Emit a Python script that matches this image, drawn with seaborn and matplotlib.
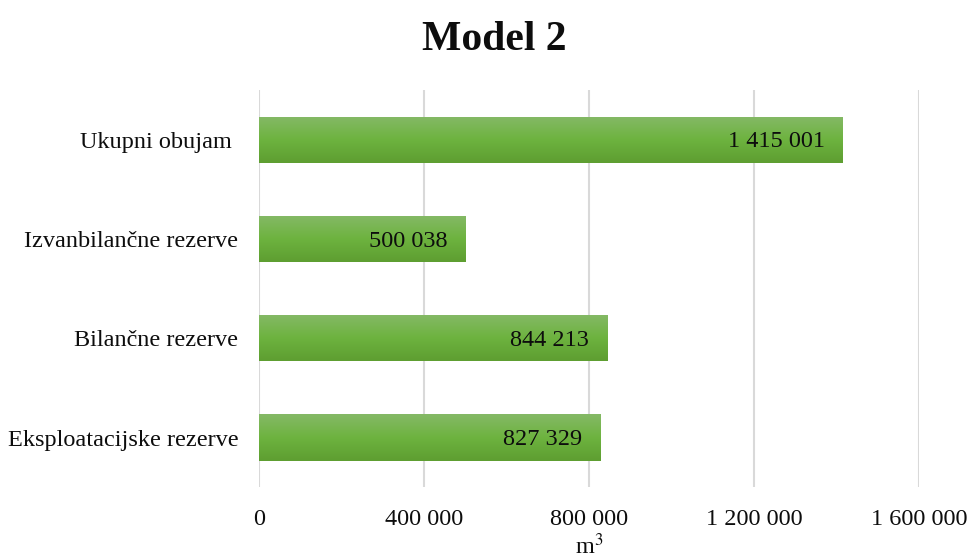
import matplotlib
matplotlib.use("Agg")
import matplotlib.pyplot as plt
import numpy as np
import pandas as pd
import seaborn as sns
from matplotlib.colors import LinearSegmentedColormap
from matplotlib.ticker import FuncFormatter

categories = [
    "Ukupni obujam ",
    "Izvanbilančne rezerve",
    "Bilančne rezerve",
    "Eksploatacijske rezerve",
]
values = [1415001, 500038, 844213, 827329]
x_ticks = [0, 400000, 800000, 1200000, 1600000]

sns.set_theme(style="white")
plt.rcParams["font.family"] = ["Liberation Serif", "DejaVu Serif"]
plt.rcParams["mathtext.fontset"] = "stix"

TEXT = "#0d0d0d"
FS = 17.5


def space_thousands(v, _pos=None):
    return f"{int(round(v)):,}".replace(",", " ")


df = pd.DataFrame({"Kategorija": categories, "Vrijednost": values})

fig = plt.figure(figsize=(9.68, 5.6), dpi=100)
ax = fig.add_axes([0.2676, 0.130, 0.6818, 0.709])

sns.barplot(
    data=df,
    x="Vrijednost",
    y="Kategorija",
    color="#70ad47",
    width=0.465,
    orient="h",
    ax=ax,
)

# vertical gradient on each bar, like the spreadsheet fill
grad = LinearSegmentedColormap.from_list("g", ["#85b966", "#6db33f", "#5e9e31"])
for patch in ax.patches:
    x0, y0 = patch.get_x(), patch.get_y()
    w, h = patch.get_width(), patch.get_height()
    img = ax.imshow(
        np.linspace(0, 1, 64).reshape(-1, 1),
        cmap=grad,
        aspect="auto",
        extent=[x0, x0 + w, y0 + h, y0],
        origin="upper",
        zorder=patch.get_zorder() + 0.1,
    )
    img.set_clip_path(patch)
    patch.set_edgecolor("none")

for patch, v in zip(ax.patches, values):
    ax.annotate(
        space_thousands(v),
        xy=(patch.get_x() + patch.get_width(), patch.get_y() + patch.get_height() / 2),
        xytext=(-13, -1.5),
        textcoords="offset points",
        ha="right",
        va="center",
        fontsize=FS,
        color=TEXT,
        zorder=5,
    )

ax.set_xlim(0, 1600000)
ax.set_ylim(3.5, -0.5)
ax.set_xticks(x_ticks)
ax.xaxis.set_major_formatter(FuncFormatter(space_thousands))
ax.grid(axis="x", color="#d9d9d9", linewidth=1.5, zorder=0)
ax.set_axisbelow(True)
for side in ["top", "right", "bottom", "left"]:
    ax.spines[side].set_visible(False)

ax.tick_params(axis="x", labelsize=FS, colors=TEXT, pad=16, length=0)
ax.tick_params(axis="y", labelsize=FS, colors=TEXT, pad=15, length=0)
ax.set_ylabel("")
ax.set_xlabel("m$^3$", fontsize=FS, color=TEXT, labelpad=2)

fig.suptitle("Model 2", fontsize=30, fontweight="bold", color=TEXT, x=0.511, y=0.962)

fig.savefig("out.png", dpi=100)
